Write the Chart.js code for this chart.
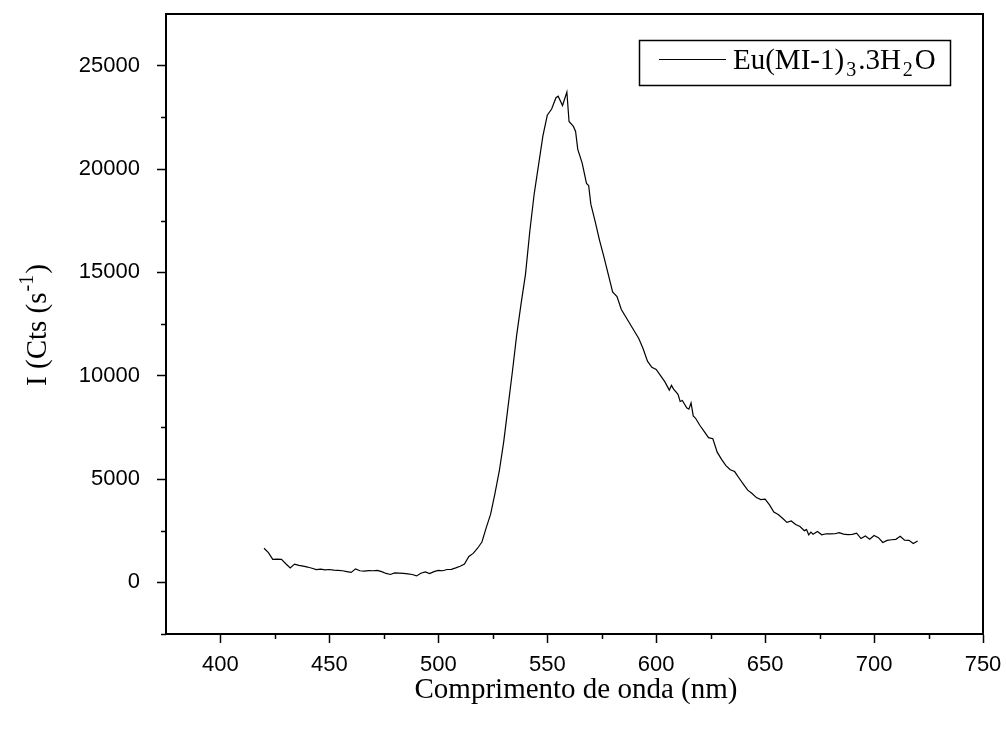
<!DOCTYPE html>
<html>
<head>
<meta charset="utf-8">
<script src="https://cdn.jsdelivr.net/npm/chart.js@4"></script>
<style>
  html, body { margin: 0; padding: 0; background: #fff; }
  #wrap { width: 1006px; height: 729px; }
</style>
</head>
<body>
<div id="wrap"><canvas id="chartSpectrum" width="1006" height="729"></canvas></div>
<script>
const _ = (id) => document.getElementById(id)

// data
const wavelengths = [
  420, 422, 424, 426, 428, 430, 432, 434, 436, 438, 440, 442, 444, 446, 448,
  450, 452, 454, 456, 458, 460, 462, 464, 466, 468, 470, 472, 474, 476, 478,
  480, 482, 484, 486, 488, 490, 492, 494, 496, 498, 500, 502, 504, 506, 508,
  510, 512, 514, 516, 518, 520, 522, 524, 526, 528, 530, 532, 534, 536, 538,
  540, 542, 544, 546, 548, 550, 552, 554, 555, 557, 559, 560, 562, 563, 564,
  566, 568, 569, 570, 572, 574, 576, 578, 580, 582, 584, 586, 588, 590, 592,
  594, 596, 598, 600, 602, 604, 606, 607, 608, 610, 611, 612, 614, 615, 616,
  617, 618, 620, 622, 624, 626, 628, 630, 632, 634, 636, 638, 640, 642, 644,
  646, 648, 650, 652, 654, 656, 658, 660, 662, 664, 666, 668, 669, 670, 671,
  672, 674, 676, 678, 680, 682, 684, 686, 688, 690, 692, 694, 696, 698, 700,
  702, 704, 706, 708, 710, 712, 714, 716, 718, 720,
]
const intensity = [
  1650, 1440, 1110, 1120, 1110, 900, 700, 880, 820, 780, 740, 680, 620, 640, 600,
  620, 590, 580, 560, 520, 480, 650, 560, 540, 570, 560, 580, 520, 430, 380,
  460, 450, 430, 410, 380, 310, 440, 500, 420, 520, 580, 560, 620, 630, 700,
  780, 880, 1250, 1400, 1650, 1950, 2650, 3300, 4300, 5400, 6800, 8500, 10200, 12000, 13500,
  14900, 17000, 18800, 20200, 21600, 22600, 22900, 23450, 23520, 23070, 23720, 22300, 22060, 21820, 20950,
  20300, 19300, 19200, 18300, 17450, 16550, 15750, 14900, 14050, 13830, 13200, 12850, 12500, 12150, 11800,
  11300, 10700, 10400, 10300, 10000, 9700, 9300, 9530, 9350, 9100, 8750, 8800, 8450, 8380, 8680,
  8050, 7950, 7600, 7300, 7000, 6950, 6300, 5950, 5650, 5450, 5360, 5050, 4750, 4460, 4300,
  4100, 4000, 4030, 3750, 3400, 3280, 3100, 2900, 2970, 2800, 2700, 2500, 2550, 2300, 2430,
  2330, 2460, 2300, 2350, 2340, 2350, 2400, 2330, 2310, 2320, 2380, 2120, 2240, 2090, 2270,
  2160, 1930, 2030, 2060, 2080, 2230, 2040, 2030, 1880, 2000,
]
const xTicks = [400, 450, 500, 550, 600, 650, 700, 750]
const yTicks = [0, 5000, 10000, 15000, 20000, 25000]
const xMinorTicks = [425, 475, 525, 575, 625, 675, 725]
const yMinorTicks = [-2500, 2500, 7500, 12500, 17500, 22500]

const serif = 'Liberation Serif'
const sans = 'Liberation Sans'

// text with sub/superscripts: parts = [[text, size, dy, gap], ...]
function richWidth(ctx, parts) {
  return parts.reduce((w, p) => {
    ctx.font = `${p[1]}px "${serif}"`
    return w + ctx.measureText(p[0]).width + 2 * (p[3] || 0)
  }, 0)
}

function drawRich(ctx, parts, x, y) {
  let cx = x
  parts.forEach((p) => {
    const gap = p[3] || 0
    ctx.font = `${p[1]}px "${serif}"`
    ctx.fillText(p[0], cx + gap, y + p[2])
    cx += ctx.measureText(p[0]).width + 2 * gap
  })
}

const decorations = {
  id: 'decorations',
  afterDraw(chart) {
    const { ctx, chartArea } = chart
    const xs = chart.scales.x
    const ys = chart.scales.y
    ctx.save()
    ctx.strokeStyle = '#000'
    ctx.fillStyle = '#000'
    // frame
    ctx.lineWidth = 2
    ctx.strokeRect(chartArea.left, chartArea.top, chartArea.right - chartArea.left, chartArea.bottom - chartArea.top)
    // minor ticks
    ctx.lineWidth = 1.5
    ctx.beginPath()
    xMinorTicks.forEach((v) => {
      const px = Math.round(xs.getPixelForValue(v)) + 0.5
      ctx.moveTo(px, chartArea.bottom)
      ctx.lineTo(px, chartArea.bottom + 5)
    })
    yMinorTicks.forEach((v) => {
      const py = Math.round(ys.getPixelForValue(v)) + 0.5
      ctx.moveTo(chartArea.left, py)
      ctx.lineTo(chartArea.left - 5, py)
    })
    ctx.stroke()

    // x title
    ctx.textBaseline = 'alphabetic'
    ctx.textAlign = 'center'
    ctx.font = `29px "${serif}"`
    ctx.fillText('Comprimento de onda (nm)', 576, 698)

    // y title
    ctx.textAlign = 'left'
    const yTitle = [['I (Cts (s', 29, 0], ['-1', 20, -13, 1], [')', 29, 0]]
    ctx.translate(46, 325)
    ctx.rotate(-Math.PI / 2)
    drawRich(ctx, yTitle, -richWidth(ctx, yTitle) / 2, 0)
    ctx.setTransform(1, 0, 0, 1, 0, 0)

    // legend box
    ctx.lineWidth = 1.5
    ctx.strokeRect(639.5, 40.5, 311, 45)
    ctx.lineWidth = 1.2
    ctx.beginPath()
    ctx.moveTo(659, 59.5)
    ctx.lineTo(726, 59.5)
    ctx.stroke()
    drawRich(ctx, [
      ['Eu(MI-1)', 29, 0], ['3', 20, 7, 2], ['.3H', 29, 0], ['2', 20, 7, 2], ['O', 29, 0],
    ], 733, 69)
    ctx.restore()
  },
}

new Chart(_('chartSpectrum'), {
  type: 'scatter',
  data: {
    datasets: [
      {
        label: 'Eu(MI-1)3.3H2O',
        data: wavelengths.map((w, i) => ({ x: w, y: intensity[i] })),
        showLine: true,
        borderColor: '#000',
        borderWidth: 1.2,
        pointRadius: 0,
        tension: 0,
      },
    ],
  },
  options: {
    responsive: false,
    animation: false,
    layout: { padding: { top: 14, right: 23, left: 0, bottom: 0 } },
    plugins: {
      legend: { display: false },
      tooltip: { enabled: false },
    },
    scales: {
      x: {
        type: 'linear',
        min: 375,
        max: 750,
        afterBuildTicks: (s) => { s.ticks = xTicks.map((v) => ({ value: v })) },
        afterFit: (s) => {
          s.height = 95
          s.paddingLeft = 0
          s.paddingRight = 0
        },
        border: { display: true, color: '#000', width: 2 },
        grid: { drawOnChartArea: false, tickLength: 9, tickColor: '#000', tickWidth: 1.5 },
        ticks: { color: '#000', font: { family: sans, size: 22 }, padding: 9, maxRotation: 0 },
      },
      y: {
        type: 'linear',
        min: -2500,
        max: 27500,
        afterBuildTicks: (s) => { s.ticks = yTicks.map((v) => ({ value: v })) },
        afterFit: (s) => {
          s.width = 166
          s.paddingTop = 0
          s.paddingBottom = 0
        },
        border: { display: true, color: '#000', width: 2 },
        grid: { drawOnChartArea: false, tickLength: 9, tickColor: '#000', tickWidth: 1.5 },
        ticks: { color: '#000', font: { family: sans, size: 22 }, padding: 17, callback: (v) => String(v) },
      },
    },
  },
  plugins: [decorations],
})
</script>
</body>
</html>
